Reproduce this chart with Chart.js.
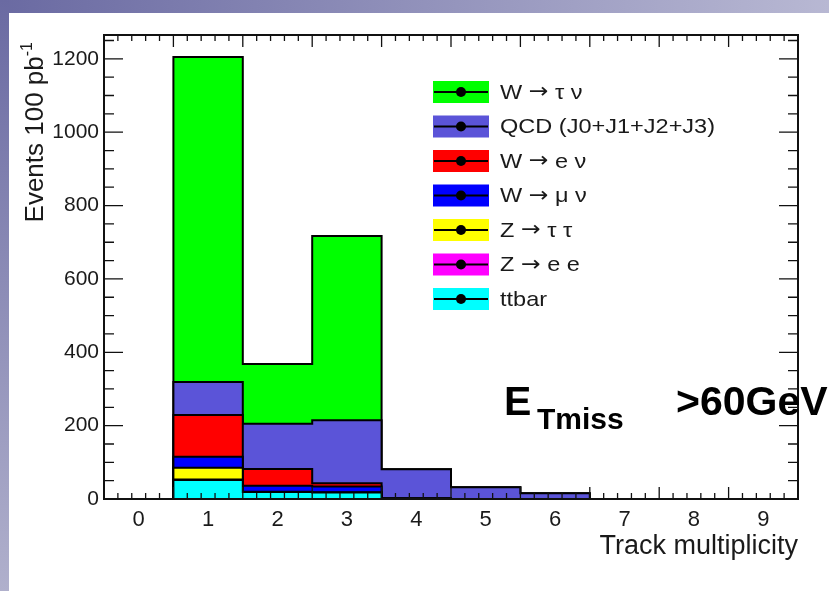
<!DOCTYPE html>
<html>
<head>
<meta charset="utf-8">
<title>Track multiplicity</title>
<script src="https://cdn.jsdelivr.net/npm/chart.js@4.4.1/dist/chart.umd.min.js"></script>
<style>
  html, body { margin: 0; padding: 0; background: #fff; }
  body { width: 829px; height: 591px; position: relative; overflow: hidden; }
  .band-top { position: absolute; left: 0; top: 0; width: 829px; height: 13px;
    background: linear-gradient(to right, #6a6aa2, #b8b8d3); }
  .band-left { position: absolute; left: 0; top: 0; width: 9px; height: 591px;
    background: linear-gradient(to bottom, #6a6aa2, #b0b0cc); }
  #wrap { position: absolute; left: 0; top: 0; width: 829px; height: 591px; }
</style>
</head>
<body>
<div class="band-top"></div>
<div class="band-left"></div>
<div id="wrap"><canvas id="trackChart" width="829" height="591"></canvas></div>
<script>
// bins of the histogram (track multiplicity) and y axis labels
const trackBins = [0, 1, 2, 3, 4, 5, 6, 7, 8, 9];
const yTicks = [0, 200, 400, 600, 800, 1000, 1200];
const yMax = 1265;

// events per bin, bottom of the stack first
const ttbar   = [0, 52, 19, 18, 1, 0, 0, 0, 0, 0];
const zee     = [0, 1, 0, 0, 0, 0, 0, 0, 0, 0];
const ztautau = [0, 32, 1, 0, 0, 0, 0, 0, 0, 0];
const wmunu   = [0, 30, 16, 16, 0, 0, 0, 0, 0, 0];
const wenu    = [0, 114, 46, 9, 1, 0, 0, 0, 0, 0];
const qcd     = [0, 90, 123, 172, 79, 32, 16, 0, 0, 0];
const wtaunu  = [0, 886, 163, 502, 0, 0, 0, 0, 0, 0];

const stackLabels = ['ttbar', 'Z \u2192 e e', 'Z \u2192 \u03c4 \u03c4', 'W \u2192 \u03bc \u03bd',
  'W \u2192 e \u03bd', 'QCD (J0+J1+J2+J3)', 'W \u2192 \u03c4 \u03bd'];
const stackValues = [ttbar, zee, ztautau, wmunu, wenu, qcd, wtaunu];
const stackColors = ['#00ffff', '#ff00ff', '#ffff00', '#0000ff', '#ff0000', '#5b54d8', '#00ff00'];

const FONT = '"Liberation Sans", Arial, Helvetica, sans-serif';
const ARROW_FONT = '"DejaVu Sans", sans-serif';

// histogram -> stepped line points at the bin edges
function toSteps(values) {
  const pts = values.map((v, i) => ({ x: trackBins[i] - 0.5, y: v }));
  pts.push({ x: trackBins[trackBins.length - 1] + 0.5, y: values[values.length - 1] });
  return pts;
}

const datasets = stackValues.map((vals, i) => ({
  label: stackLabels[i],
  data: toSteps(vals),
  stepped: 'before',
  fill: i === 0 ? 'origin' : '-1',
  backgroundColor: stackColors[i],
  borderColor: '#000',
  borderWidth: 2,
  pointRadius: 0,
  tension: 0,
}));

// draw a legend label, the arrow taken from DejaVu (ROOT uses the Symbol font there)
function drawLabel(ctx, text, x, y, size) {
  const parts = text.split('\u2192');
  parts.forEach((p, k) => {
    ctx.font = size + 'px ' + FONT;
    ctx.fillText(p, x, y);
    x += ctx.measureText(p).width;
    if (k < parts.length - 1) {
      ctx.font = size + 'px ' + ARROW_FONT;
      ctx.fillText('\u2192', x, y);
      x += ctx.measureText('\u2192').width;
    }
  });
}

// ROOT style frame with inward ticks on all four sides
const rootFrame = {
  id: 'rootFrame',
  afterDatasetsDraw(chart) {
    const { ctx, chartArea } = chart;
    const { left, right, top, bottom } = chartArea;
    const xs = chart.scales.x, ys = chart.scales.y;
    ctx.save();
    ctx.strokeStyle = '#111';
    ctx.lineWidth = 1.3;
    ctx.beginPath();
    for (let k = 0; k <= 50; k++) {
      const px = xs.getPixelForValue(-0.5 + k * 0.2);
      const len = k % 5 === 0 ? 12 : 6;
      ctx.moveTo(px, bottom); ctx.lineTo(px, bottom - len);
      ctx.moveTo(px, top); ctx.lineTo(px, top + len);
    }
    for (let v = 0; v <= yMax; v += 50) {
      const py = ys.getPixelForValue(v);
      const len = v % 200 === 0 ? 19 : 10;
      ctx.moveTo(left, py); ctx.lineTo(left + len, py);
      ctx.moveTo(right, py); ctx.lineTo(right - len, py);
    }
    ctx.stroke();
    ctx.lineWidth = 2;
    ctx.strokeRect(left, top, right - left, bottom - top);
    ctx.restore();
  },
  afterDraw(chart) {
    const { ctx, chartArea } = chart;
    const { left, right, top } = chartArea;
    ctx.save();

    // legend box, top entry = top of the stack
    const lx = left + 329, ly0 = top + 57, dy = 34.5, bw = 56, bh = 22;
    for (let j = 0; j < stackLabels.length; j++) {
      const i = stackLabels.length - 1 - j;
      const cy = ly0 + j * dy;
      ctx.fillStyle = stackColors[i];
      ctx.fillRect(lx, cy - bh / 2, bw, bh);
      ctx.strokeStyle = '#000';
      ctx.lineWidth = 2;
      ctx.beginPath();
      ctx.moveTo(lx + 1, cy); ctx.lineTo(lx + bw - 1, cy);
      ctx.stroke();
      ctx.fillStyle = '#000';
      ctx.beginPath();
      ctx.arc(lx + bw / 2, cy, 5, 0, Math.PI * 2);
      ctx.fill();
      ctx.fillStyle = '#1a1a1a';
      ctx.textBaseline = 'middle';
      ctx.textAlign = 'left';
      ctx.save();
      ctx.translate(lx + 67, cy + 1);
      ctx.scale(1.12, 1);
      drawLabel(ctx, stackLabels[i], 0, 0, 21);
      ctx.restore();
    }

    // axis titles
    ctx.fillStyle = '#1a1a1a';
    ctx.textBaseline = 'alphabetic';
    ctx.font = '27px ' + FONT;
    ctx.textAlign = 'right';
    ctx.fillText('Track multiplicity', right, 554);

    ctx.save();
    ctx.translate(43, top + 6);
    ctx.rotate(-Math.PI / 2);
    ctx.font = '16px ' + FONT;
    const supW = ctx.measureText('-1').width;
    ctx.textAlign = 'left';
    ctx.fillText('-1', -supW - 1, -11);
    ctx.font = '26px ' + FONT;
    ctx.textAlign = 'right';
    ctx.fillText('Events 100 pb', -supW - 1, 0);
    ctx.restore();

    // cut label
    ctx.fillStyle = '#000';
    ctx.textAlign = 'left';
    ctx.font = 'bold 41px ' + FONT;
    ctx.fillText('E', 504, 415);
    ctx.font = 'bold 30px ' + FONT;
    ctx.fillText('Tmiss', 537, 429);
    ctx.font = 'bold 41px ' + FONT;
    ctx.fillText('>60GeV', 676, 415);

    ctx.restore();
  }
};

const ctx = document.getElementById('trackChart').getContext('2d');
new Chart(ctx, {
  type: 'line',
  data: { datasets },
  options: {
    responsive: false,
    animation: false,
    devicePixelRatio: 1,
    layout: { padding: { top: 35, right: 31, left: 0, bottom: 0 } },
    plugins: { legend: { display: false }, tooltip: { enabled: false } },
    scales: {
      x: {
        type: 'linear',
        min: -0.5,
        max: 9.5,
        afterBuildTicks: (scale) => { scale.ticks = trackBins.map(v => ({ value: v })); },
        afterFit: (scale) => { scale.height = 92; },
        grid: { display: false, drawTicks: false },
        border: { display: false },
        ticks: { color: '#1a1a1a', font: { family: FONT, size: 22 }, padding: 8, maxRotation: 0,
          callback: (v) => String(v) },
      },
      y: {
        type: 'linear',
        stacked: true,
        min: 0,
        max: yMax,
        afterBuildTicks: (scale) => { scale.ticks = yTicks.map(v => ({ value: v })); },
        afterFit: (scale) => { scale.width = 104; },
        grid: { display: false, drawTicks: false },
        border: { display: false },
        ticks: { color: '#1a1a1a', font: { family: FONT, size: 21 }, padding: 5,
          callback: (v) => String(v) },
      },
    },
  },
  plugins: [rootFrame],
});
</script>
</body>
</html>
